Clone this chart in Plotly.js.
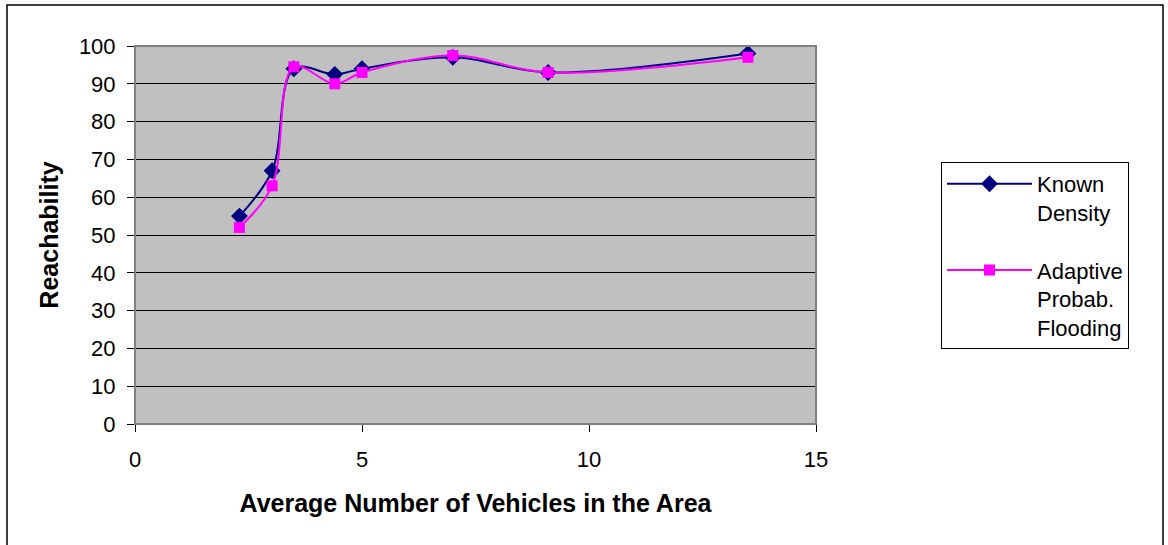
<!DOCTYPE html>
<html>
<head>
<meta charset="utf-8">
<script src="https://cdn.plot.ly/plotly-3.0.1.min.js"></script>
<style>
html,body{margin:0;padding:0;background:#fff;}
#chart{width:1168px;height:545px;}
</style>
</head>
<body>
<div id="chart"></div>
<script>
const vehicles = [2.3, 3.02, 3.5, 4.4, 5.0, 7.0, 9.1, 13.5];
const knownDensity = [55, 67, 94, 92.5, 94, 97, 93, 98];
const adaptiveFlooding = [52, 63, 94.5, 90, 93, 97.5, 93, 97];
const seriesNames = ["Known<br>Density", "Adaptive<br>Probab.<br>Flooding"];
const xTicks = [0, 5, 10, 15];
const yTicks = [0, 10, 20, 30, 40, 50, 60, 70, 80, 90, 100];

const font = "Liberation Sans, Arial, sans-serif";

const traces = [
  {
    x: vehicles, y: knownDensity, name: seriesNames[0], legendgroup: "a",
    mode: "lines+markers", type: "scatter",
    line: {color: "#000080", width: 2, shape: "spline", smoothing: 1},
    marker: {symbol: "diamond", size: 13, color: "#000080"}
  },
  {
    x: vehicles, y: adaptiveFlooding, name: seriesNames[1], legendgroup: "b",
    mode: "lines+markers", type: "scatter",
    line: {color: "#ff00ff", width: 2, shape: "spline", smoothing: 1},
    marker: {symbol: "square", size: 11, color: "#ff00ff"}
  }
];

const L = 135, R = 352, T = 46, B = 121;
const pw = 1168 - L - R, ph = 545 - T - B;
function px(xp){ return (xp - L) / pw; }
function py(yp){ return (545 - B - yp) / ph; }

const layout = {
  width: 1168, height: 545,
  margin: {l: L, r: R, t: T, b: B, pad: 0},
  paper_bgcolor: "#ffffff",
  plot_bgcolor: "#c0c0c0",
  font: {family: font, size: 22, color: "#000"},
  showlegend: true,
  legend: {
    x: px(941), y: py(162), xanchor: "left", yanchor: "top",
    bgcolor: "#ffffff", bordercolor: "#000", borderwidth: 1,
    font: {family: font, size: 22, color: "#000"},
    traceorder: "grouped", tracegroupgap: 26, itemwidth: 85, valign: "top"
  },
  xaxis: {
    range: [0, 15], tickvals: xTicks, ticktext: xTicks.map(String),
    showgrid: false, zeroline: false,
    showline: true, linecolor: "#000", linewidth: 1,
    ticks: "outside", ticklen: 7, tickcolor: "#000",
    ticklabelstandoff: 9,
    tickfont: {family: font, size: 22},
    title: {text: "<b>Average Number of Vehicles in the Area</b>", font: {family: font, size: 25}, standoff: 23}
  },
  yaxis: {
    range: [0, 100], tickvals: yTicks, ticktext: yTicks.map(String),
    showgrid: true, gridcolor: "#000", gridwidth: 1, zeroline: false,
    showline: true, linecolor: "#000", linewidth: 1,
    ticks: "outside", ticklen: 7, tickcolor: "#000",
    ticklabelstandoff: 7,
    tickfont: {family: font, size: 22},
    title: {text: "<b>Reachability</b>", font: {family: font, size: 25}, standoff: 13}
  },
  shapes: [
    {type: "rect", xref: "paper", yref: "paper", x0: 0, x1: 1, y0: 0, y1: 1,
     line: {color: "#808080", width: 2}, layer: "above"},
    {type: "rect", xref: "paper", yref: "paper", x0: px(7), x1: px(1163), y0: py(560), y1: py(5),
     line: {color: "#000", width: 1.5}, layer: "above"}
  ]
};

Plotly.newPlot("chart", traces, layout, {displayModeBar: false, staticPlot: true});
</script>
</body>
</html>
